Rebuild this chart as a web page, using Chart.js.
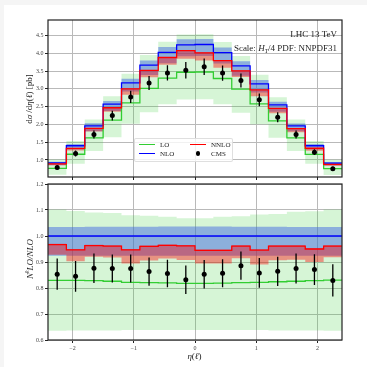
<!DOCTYPE html>
<html>
<head>
<meta charset="utf-8">
<script src="https://cdn.jsdelivr.net/npm/chart.js@4.4.1/dist/chart.umd.min.js"></script>
<style>
  body { margin: 0; background: #f5f5f5; width: 367px; height: 367px; overflow: hidden; }
  #sheet { position: absolute; left: 4px; top: 5px; width: 363px; height: 362px; background: #fff; }
  canvas { position: absolute; left: 0; top: 0; }
  .txt { position: absolute; font-family: 'Liberation Serif', 'DejaVu Serif', serif; color: #222; white-space: nowrap; line-height: 1; }
  .ylab { transform: translate(-50%, -50%) rotate(-90deg); font-size: 9px; }
  .note { right: 30px; font-size: 9px; }
  #legend { position: absolute; left: 134px; top: 138px; width: 97px; height: 22px;
            background: rgba(255,255,255,0.8); border: 1px solid rgba(215,215,215,0.8); border-radius: 2px; }
  #legend .sw { position: absolute; width: 16px; height: 1.2px; }
  #legend .lab { position: absolute; font-family: 'Liberation Serif', 'DejaVu Serif', serif; font-size: 7px; color: #222; line-height: 1; }
  #legend .dot { position: absolute; width: 4.6px; height: 4.6px; border-radius: 50%; background: #000; }
</style>
</head>
<body>
<div id="sheet"></div>
<canvas id="xsecChart" width="367" height="367"></canvas>
<canvas id="ratioChart" width="367" height="367"></canvas>

<div class="txt note" style="top:30px;">LHC 13 TeV</div>
<div class="txt note" style="top:43.5px;">Scale: <i>H</i><sub style="font-size:6px;vertical-align:-1.5px;"><i>T</i></sub>/4 PDF: NNPDF31</div>
<div class="txt ylab" style="left:28.5px; top:98.5px;">d<i>σ</i> /d<i>η</i>(<i>ℓ</i>) [pb]</div>
<div class="txt ylab" style="left:28.5px; top:259px;"><i>N<sup style="font-size:6px;">k</sup>LO/NLO</i></div>
<div class="txt" style="left:194.5px; top:356px; transform:translate(-50%,-50%); font-size:9px;"><i>η</i>(<i>ℓ</i>)</div>

<div id="legend">
  <div class="sw" style="left:4px; top:5px; background:#32cd32;"></div>
  <div class="lab" style="left:25px; top:2.5px;">LO</div>
  <div class="sw" style="left:4px; top:14px; background:#0000ff;"></div>
  <div class="lab" style="left:25px; top:11.5px;">NLO</div>
  <div class="sw" style="left:55px; top:5px; background:#ff0000;"></div>
  <div class="lab" style="left:76px; top:2.5px;">NNLO</div>
  <div class="dot" style="left:60.7px; top:12.3px;"></div>
  <div class="lab" style="left:76px; top:11.5px;">CMS</div>
</div>

<script>
// eta(l) binning and tick positions
const etaEdges = [-2.4, -2.1, -1.8, -1.5, -1.2, -0.9, -0.6, -0.3, 0, 0.3, 0.6, 0.9, 1.2, 1.5, 1.8, 2.1, 2.4];
const etaTicks = [-2, -1, 0, 1, 2];
const xsecTicks = [1.0, 1.5, 2.0, 2.5, 3.0, 3.5, 4.0, 4.5];
const ratioTicks = [0.6, 0.7, 0.8, 0.9, 1.0, 1.1, 1.2];

// NLO central prediction, dsigma/deta [pb], and its scale band relative to central
const nloXsec = [0.92, 1.40, 1.96, 2.57, 3.17, 3.67, 4.03, 4.24, 4.25, 4.02, 3.65, 3.14, 2.55, 1.96, 1.40, 0.91];
const nloBandLo = [0.924, 0.924, 0.924, 0.924, 0.924, 0.924, 0.924, 0.924, 0.924, 0.924, 0.924, 0.924, 0.924, 0.924, 0.924, 0.924];
const nloBandHi = [1.035, 1.035, 1.036, 1.036, 1.036, 1.036, 1.037, 1.037, 1.037, 1.037, 1.036, 1.036, 1.036, 1.035, 1.035, 1.035];

// LO and NNLO, normalised to NLO
const loRatio = [0.829, 0.829, 0.828, 0.826, 0.822, 0.821, 0.820, 0.818, 0.818, 0.819, 0.821, 0.822, 0.824, 0.826, 0.828, 0.830];
const loBandLo = [0.636, 0.637, 0.637, 0.637, 0.638, 0.638, 0.638, 0.638, 0.638, 0.638, 0.638, 0.638, 0.637, 0.637, 0.637, 0.636];
const loBandHi = [1.102, 1.096, 1.090, 1.088, 1.080, 1.078, 1.074, 1.068, 1.068, 1.074, 1.076, 1.083, 1.085, 1.093, 1.095, 1.102];
const nnloRatio = [0.967, 0.947, 0.963, 0.961, 0.947, 0.960, 0.964, 0.962, 0.945, 0.945, 0.961, 0.946, 0.961, 0.961, 0.950, 0.961];
const nnloBandLo = [0.928, 0.903, 0.920, 0.917, 0.894, 0.906, 0.913, 0.908, 0.894, 0.894, 0.914, 0.890, 0.907, 0.909, 0.900, 0.918];
const nnloBandHi = [0.970, 0.950, 0.966, 0.964, 0.950, 0.963, 0.967, 0.965, 0.948, 0.948, 0.964, 0.949, 0.964, 0.964, 0.953, 0.964];

// CMS data over NLO, with total uncertainty
const cmsRatio = [0.853, 0.845, 0.876, 0.875, 0.875, 0.863, 0.856, 0.832, 0.853, 0.857, 0.886, 0.858, 0.864, 0.875, 0.871, 0.829];
const cmsRatioErr = [0.060, 0.059, 0.057, 0.054, 0.054, 0.054, 0.053, 0.055, 0.055, 0.054, 0.054, 0.057, 0.056, 0.058, 0.059, 0.062];

const etaCentres = etaEdges.slice(0, -1).map((e, i) => (e + etaEdges[i + 1]) / 2);
const times = (a, b) => a.map((v, i) => v * b[i]);

const serif = "'Liberation Serif', 'DejaVu Serif', serif";
const gridColor = '#b9b9b9';

// histogram outline: one point per lower edge plus the last upper edge
function stepData(vals) {
  const pts = vals.map((v, i) => ({ x: etaEdges[i], y: v }));
  pts.push({ x: etaEdges[vals.length], y: vals[vals.length - 1] });
  return pts;
}

function band(lo, hi, color, order) {
  const base = { stepped: true, borderColor: 'transparent', borderWidth: 0, pointRadius: 0, order };
  return [
    { ...base, data: stepData(lo), fill: false },
    { ...base, data: stepData(hi), fill: '-1', backgroundColor: color }
  ];
}

function histLine(vals, color, order) {
  return { data: stepData(vals), stepped: true, borderColor: color, borderWidth: 1.3, pointRadius: 0, fill: false, order };
}

function errorBars(y, err, order) {
  const pts = [];
  etaCentres.forEach((c, i) => {
    pts.push({ x: c, y: y[i] - err[i] }, { x: c, y: y[i] + err[i] }, { x: c, y: null });
  });
  return { data: pts, borderColor: '#000', borderWidth: 1.3, pointRadius: 0, fill: false, spanGaps: false, order };
}

function markers(y, order) {
  return {
    data: etaCentres.map((c, i) => ({ x: c, y: y[i] })), showLine: false,
    pointRadius: 2.5, pointBackgroundColor: '#000', pointBorderWidth: 0, order
  };
}

const frame = {
  id: 'frame',
  afterDatasetsDraw(chart) {
    const { ctx, chartArea: a } = chart;
    ctx.save();
    ctx.strokeStyle = '#222';
    ctx.lineWidth = 1.2;
    ctx.strokeRect(a.left, a.top, a.right - a.left, a.bottom - a.top);
    ctx.restore();
  }
};

// norm = NLO cross section for the upper panel, all ones for the ratio panel
function makePanel(id, norm, yMin, yMax, yTicks, padTop, xAxisHeight, xLabels) {
  const cms = times(cmsRatio, norm);
  const cmsErr = times(cmsRatioErr, norm);
  const datasets = [
    ...band(times(loBandLo, norm), times(loBandHi, norm), 'rgba(50,205,50,0.2)', 10),
    ...band(times(nloBandLo, norm), times(nloBandHi, norm), 'rgba(65,105,225,0.5)', 9),
    ...band(times(nnloBandLo, norm), times(nnloBandHi, norm), 'rgba(255,0,0,0.4)', 8),
    histLine(times(loRatio, norm), '#32cd32', 5),
    histLine(norm, '#0000ff', 4),
    histLine(times(nnloRatio, norm), '#ff0000', 3),
    errorBars(cms, cmsErr, 2),
    markers(cms, 1)
  ];

  const tickFont = { family: serif, size: 6 };
  const grid = { color: gridColor, lineWidth: 1, tickColor: '#222', tickLength: 3, drawTicks: true };

  return new Chart(document.getElementById(id), {
    type: 'line',
    data: { datasets },
    options: {
      responsive: false,
      animation: false,
      layout: { padding: { top: padTop, right: 25, left: 0, bottom: 0 } },
      plugins: { legend: { display: false }, tooltip: { enabled: false } },
      scales: {
        x: {
          type: 'linear', min: -2.4, max: 2.4,
          afterBuildTicks: s => { s.ticks = etaTicks.map(v => ({ value: v })); },
          afterFit: s => { s.height = xAxisHeight; },
          grid, border: { display: false },
          ticks: {
            display: xLabels, font: tickFont, color: '#444', padding: 1.5, maxRotation: 0,
            callback: v => (v < 0 ? '\u2212' + Math.abs(v) : String(v))
          }
        },
        y: {
          min: yMin, max: yMax,
          afterBuildTicks: s => { s.ticks = yTicks.map(v => ({ value: v })); },
          afterFit: s => { s.width = 48; },
          grid, border: { display: false },
          ticks: { font: tickFont, color: '#444', padding: 1.5, callback: v => v.toFixed(1) }
        }
      }
    },
    plugins: [frame]
  });
}

const ones = nloXsec.map(() => 1);
makePanel('xsecChart', nloXsec, 0.52, 4.94, xsecTicks, 20, 190, false);
makePanel('ratioChart', ones, 0.6, 1.2, ratioTicks, 184, 27, true);
</script>
</body>
</html>
